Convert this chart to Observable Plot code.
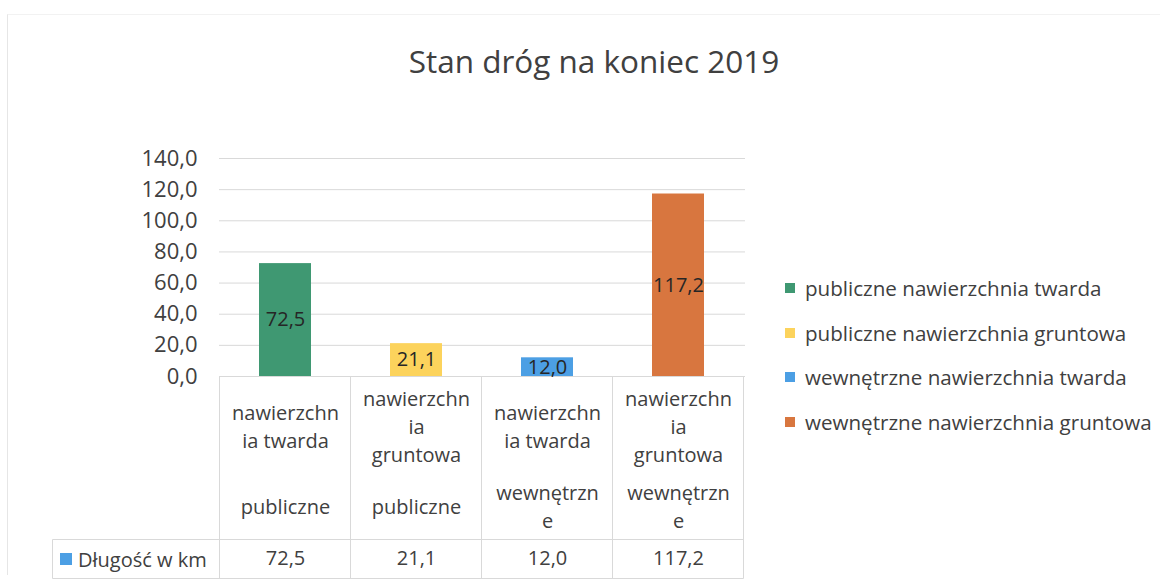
<!DOCTYPE html>
<html>
<head>
<meta charset="utf-8">
<script src="https://cdn.jsdelivr.net/npm/d3@7"></script>
<script src="https://cdn.jsdelivr.net/npm/@observablehq/plot@0.6"></script>
<style>
  html, body { margin: 0; padding: 0; background: #fff; }
  #wrap { position: relative; width: 1168px; height: 581px; overflow: hidden; font-family: "Open Sans", sans-serif; color: #404040; }
  #frame { position: absolute; left: 7px; top: 14px; width: 1152px; height: 560px; border-left: 1px solid #e6e6e6; border-top: 1px solid #f2f2f2; }
  #title { position: absolute; left: 0; width: 1188px; top: 60px; transform: translateY(-50%); text-align: center; font-size: 31.5px; color: #404040; }
  #chart { position: absolute; left: 0; top: 0; }
  #legend { position: absolute; left: 785px; top: 266px; font-size: 20.6px; color: #404040; }
  #legend .item { height: 44.5px; display: flex; align-items: center; white-space: nowrap; }
  #legend .sw { width: 10px; height: 10px; margin-right: 10px; flex: none; }
  #rowlabel { position: absolute; left: 52px; width: 166px; top: 539px; height: 40px; display: flex; align-items: center; font-size: 20px; white-space: nowrap; color: #404040; }
  #rowlabel .sw { width: 12px; height: 12px; margin: 0 6px 0 8px; flex: none; }
</style>
</head>
<body>
<div id="wrap">
  <div id="frame"></div>
  <div id="title"></div>
  <div id="chart"></div>
  <div id="legend"></div>
  <div id="rowlabel"></div>
</div>
<script>
const title = "Stan dróg na koniec 2019";
const seriesNames = [
  "publiczne nawierzchnia twarda",
  "publiczne nawierzchnia gruntowa",
  "wewnętrzne nawierzchnia twarda",
  "wewnętrzne nawierzchnia gruntowa"
];
const innerLabels = ["nawierzchn\nia twarda", "nawierzchn\nia\ngruntowa", "nawierzchn\nia twarda", "nawierzchn\nia\ngruntowa"];
const outerLabels = ["publiczne", "publiczne", "wewnętrzn\ne", "wewnętrzn\ne"];
const values = [72.5, 21.1, 12.0, 117.2];
const colors = ["#3f9872", "#fcd35c", "#4c9fe4", "#d8763f"];
const yTicks = [0, 20, 40, 60, 80, 100, 120, 140];
const rowLabel = "Długość w km";
const rowLabelColor = "#4c9fe4";

const fmt = v => v.toFixed(1).replace(".", ",");
const rows = seriesNames.map((s, i) => ({series: s, value: values[i], color: colors[i]}));
const idx = d => seriesNames.indexOf(d);

document.getElementById("title").textContent = title;

const pIn = 0.6, pOut = 0.3;
const chart = Plot.plot({
  width: 1168,
  height: 581,
  marginLeft: 219,
  marginRight: 423,
  marginTop: 158,
  marginBottom: 205,
  style: {fontFamily: "'Open Sans', sans-serif", color: "#404040", background: "transparent", overflow: "visible"},
  x: {domain: seriesNames, paddingInner: pIn, paddingOuter: pOut, label: null},
  y: {domain: [0, 140], label: null},
  marks: [
    Plot.gridY(yTicks, {stroke: "#d9d9d9", strokeOpacity: 1}),
    Plot.barY(rows, {x: "series", y: "value", fill: "color"}),
    Plot.text(rows, {x: "series", y: d => d.value / 2, text: d => fmt(d.value), fontSize: 20, fill: "#262626"}),
    Plot.axisY({ticks: yTicks, tickSize: 0, tickPadding: 22, fontSize: 22, tickFormat: fmt, label: null, fill: "#404040"}),
    Plot.axisX({tickSize: 0, tickPadding: 49, lineAnchor: "middle", lineHeight: 1.4, fontSize: 20, tickFormat: d => innerLabels[idx(d)], label: null, fill: "#404040"}),
    Plot.axisX({tickSize: 0, tickPadding: 129, lineAnchor: "middle", lineHeight: 1.4, fontSize: 20, tickFormat: d => outerLabels[idx(d)], label: null, fill: "#404040"}),
    Plot.axisX({tickSize: 0, tickPadding: 182, lineAnchor: "middle", fontSize: 20, tickFormat: d => fmt(values[idx(d)]), label: null, fill: "#404040"})
  ]
});
document.getElementById("chart").appendChild(chart);

// table borders derived from the x scale
const xs = chart.scale("x");
const bw = xs.bandwidth;
const step = xs.step || bw / (1 - pIn);
const bounds = seriesNames.map(d => xs.apply(d) - (step - bw) / 2);
bounds.push(bounds[bounds.length - 1] + step);
const ys = chart.scale("y");
const y0 = ys.apply(0);
const svg = d3.select(chart);
const g = svg.append("g").attr("stroke", "#d9d9d9").attr("stroke-width", 1);
const sepY = 539.5, botY = 578.5, leftX = 52.5;
bounds.forEach(b => g.append("line").attr("x1", b).attr("x2", b).attr("y1", y0).attr("y2", botY));
g.append("line").attr("x1", leftX).attr("x2", leftX).attr("y1", sepY).attr("y2", botY);
g.append("line").attr("x1", leftX).attr("x2", bounds[bounds.length - 1]).attr("y1", sepY).attr("y2", sepY);
g.append("line").attr("x1", leftX).attr("x2", bounds[bounds.length - 1]).attr("y1", botY).attr("y2", botY);

// legend
const legend = document.getElementById("legend");
seriesNames.forEach((s, i) => {
  const it = document.createElement("div");
  it.className = "item";
  const sw = document.createElement("span");
  sw.className = "sw";
  sw.style.background = colors[i];
  it.appendChild(sw);
  it.appendChild(document.createTextNode(s));
  legend.appendChild(it);
});

const rl = document.getElementById("rowlabel");
const rsw = document.createElement("span");
rsw.className = "sw";
rsw.style.background = rowLabelColor;
rl.appendChild(rsw);
rl.appendChild(document.createTextNode(rowLabel));
</script>
</body>
</html>
